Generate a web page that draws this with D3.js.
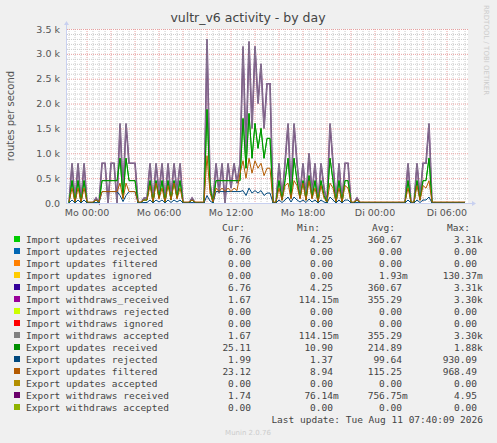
<!DOCTYPE html>
<html><head><meta charset="utf-8">
<script src="https://cdn.jsdelivr.net/npm/d3@7"></script>
<style>body{margin:0;background:#f0f0f0}</style>
</head><body><div id="chart"></div>
<script>
// samples every 15 min, first sample at Mo 00:00 - 1.5h
const startHour = -1.5, stepHour = 0.25;
const withdraws = [0,800,0,800,0,800,0,0,0,100,0,800,800,0,800,800,0,1600,200,1600,800,800,800,0,0,100,100,800,0,800,200,800,0,800,100,800,200,800,0,0,0,100,0,0,0,0,3300,400,0,800,200,800,0,800,300,800,400,800,3150,1000,3250,1500,3150,2000,2800,1500,2400,2400,0,0,800,100,800,1600,200,1600,800,200,800,100,1000,200,800,0,800,300,0,1600,800,0,800,0,800,800,0,0,100,0,0,0,0,0,0,0,0,0,0,0,0,0,0,0,0,800,0,0,800,100,800,800,1600,0,0,0,0,0,0,0,0,0,0,0,0];
const updates = [5,450,5,450,5,450,5,5,5,60,5,450,450,450,450,450,450,900,100,900,450,450,450,5,5,60,60,450,5,450,100,450,5,450,60,450,100,450,5,5,5,60,5,5,5,5,1880,300,5,450,450,450,450,450,450,450,450,450,1700,700,1800,900,1600,1100,1500,900,1300,1300,5,5,450,60,450,900,100,900,450,100,450,60,550,100,450,5,450,150,5,900,450,5,450,5,450,450,5,5,60,5,5,5,5,5,5,5,5,5,5,5,5,5,5,5,5,450,5,5,450,60,450,450,900,5,5,5,5,5,5,5,5,5,5,5,5];
const filtered = [20,300,20,300,20,300,20,20,20,60,20,230,230,230,230,230,230,400,80,400,230,230,230,20,20,60,60,350,20,400,80,300,20,350,60,400,80,300,20,20,20,60,20,20,20,20,950,200,20,300,230,300,230,300,230,300,250,600,850,500,900,600,850,700,800,550,700,700,20,20,300,50,350,400,80,450,350,80,400,50,450,80,300,20,350,100,20,400,300,20,300,20,350,300,20,20,60,20,20,20,20,20,20,20,20,20,20,20,20,20,20,20,20,300,20,20,350,50,350,300,450,20,20,20,20,20,20,20,20,20,20,20,20];
const rejected = [2,60,2,60,2,60,2,2,2,10,2,230,230,230,230,230,230,150,30,150,230,230,230,2,2,10,10,60,2,60,20,60,2,60,10,60,20,60,2,2,2,10,2,2,2,2,150,40,2,230,230,230,230,230,230,230,230,230,250,150,300,200,250,200,250,150,200,200,2,2,60,10,60,120,20,120,60,20,60,10,80,20,60,2,60,20,2,120,60,2,60,2,60,60,2,2,10,2,2,2,2,2,2,2,2,2,2,2,2,2,2,2,2,60,2,2,60,10,60,60,120,2,2,2,2,2,2,2,2,2,2,2,2];
const yTicks = [0,500,1000,1500,2000,2500,3000,3500];
const yTickLabels = ["0.0","0.5 k","1.0 k","1.5 k","2.0 k","2.5 k","3.0 k","3.5 k"];
const xTicks = [0,6,12,18,24,30];
const xTickLabels = ["Mo 00:00","Mo 06:00","Mo 12:00","Mo 18:00","Di 00:00","Di 06:00"];
const legendNames = ["Import updates received","Import updates rejected","Import updates filtered","Import updates ignored","Import updates accepted","Import withdraws_received","Import withdraws rejected","Import withdraws ignored","Import withdraws accepted","Export updates received","Export updates rejected","Export updates filtered","Export updates accepted","Export withdraws received","Export withdraws accepted"];
const legendColors = ["#00cc00","#0066b3","#ff8000","#ffcc00","#330099","#990099","#ccff00","#ff0000","#808080","#008f00","#00487d","#b35a00","#b38f00","#6b006b","#8fb300"];
const curVals = ["6.76","0.00","0.00","0.00","6.76","1.67","0.00","0.00","1.67","25.11","1.99","23.12","0.00","1.74","0.00"];
const minVals = ["4.25","0.00","0.00","0.00","4.25","114.15m","0.00","0.00","114.15m","10.90","1.37","8.94","0.00","76.14m","0.00"];
const avgVals = ["360.67","0.00","0.00","1.93m","360.67","355.29","0.00","0.00","355.29","214.89","99.64","115.25","0.00","756.75m","0.00"];
const maxVals = ["3.31k","0.00","0.00","130.37m","3.31k","3.30k","0.00","0.00","3.30k","1.88k","930.09","968.49","0.00","4.95","0.00"];

const W = 497, H = 443;
const svg = d3.select("#chart").append("svg").attr("width", W).attr("height", H)
  .style("font-family", "DejaVu Sans");
const x = d3.scaleLinear().domain([-1.67, 31.75]).range([67, 468]);
const y = d3.scaleLinear().domain([0, 3500]).range([203, 29]);

// grid
svg.append("rect").attr("x", 67).attr("y", 29).attr("width", 401).attr("height", 174).attr("fill", "#fff");
svg.append("g").selectAll("line").data(d3.range(-1.5, 31.75, 0.5)).join("line")
  .attr("x1", d => x(d)).attr("x2", d => x(d)).attr("y1", 29).attr("y2", 203)
  .attr("stroke", d => d % 2 === 0 ? "#e8a0a0" : "#ccc").attr("stroke-dasharray", "1,1");
svg.append("g").selectAll("line").data(d3.range(100, 3600, 100)).join("line")
  .attr("x1", 67).attr("x2", 468).attr("y1", d => y(d) + 0.5).attr("y2", d => y(d) + 0.5)
  .attr("stroke", d => d % 500 === 0 ? "#e8a0a0" : "#ccc").attr("stroke-dasharray", "1,1");

const line = arr => d3.line().x((d, i) => x(startHour + i * stepHour)).y(d => y(d))(arr);
const series = [[withdraws, "#6b3a78", 1.6], [withdraws, "#8c8294", 0.8], [updates, "#00cc00", 1], [updates, "#008f00", 1], [rejected, "#00487d", 1], [filtered, "#b35a00", 1]];
series.forEach(([arr, c, w]) => {
  svg.append("path").attr("d", line(arr)).attr("fill", "none").attr("stroke", c).attr("stroke-width", w);
});

// axes
svg.append("line").attr("x1", 66).attr("x2", 472).attr("y1", 203.5).attr("y2", 203.5).attr("stroke", "#c8d0f0");
svg.append("line").attr("x1", 66.5).attr("x2", 66.5).attr("y1", 24).attr("y2", 204).attr("stroke", "#c8d0f0");
svg.append("path").attr("d", "M472,201 L476,203.5 L472,206 Z").attr("fill", "#c8d0f0");
svg.append("path").attr("d", "M64,25 L66.5,21 L69,25 Z").attr("fill", "#c8d0f0");
svg.append("g").selectAll("text").data(yTicks).join("text")
  .attr("x", 60).attr("y", d => y(d) + 3.5).attr("text-anchor", "end")
  .attr("font-size", 9.5).attr("fill", "#555").text((d, i) => yTickLabels[i]);
svg.append("g").selectAll("text").data(xTicks).join("text")
  .attr("x", d => x(d)).attr("y", 216).attr("text-anchor", "middle")
  .attr("font-size", 9.5).attr("fill", "#555").text((d, i) => xTickLabels[i]);

svg.append("text").attr("x", 248).attr("y", 22).attr("text-anchor", "middle").attr("font-size", 12.5).attr("fill", "#444").text("vultr_v6 activity - by day");
svg.append("text").attr("transform", "translate(14,116) rotate(-90)").attr("text-anchor", "middle").attr("font-size", 10).attr("fill", "#555").text("routes per second");
svg.append("text").attr("transform", "translate(484,5) rotate(90)").attr("font-size", 7).attr("fill", "#ccc").text("RRDTOOL / TOBI OETIKER");

// legend
const lg = svg.append("g").style("font-family", "DejaVu Sans Mono").attr("font-size", 9.5).attr("fill", "#444");
[["Cur:", 245], ["Min:", 320], ["Avg:", 395], ["Max:", 470]].forEach(([t, px]) =>
  lg.append("text").attr("x", px).attr("y", 231).attr("text-anchor", "end").text(t));
const cols = [[curVals, 251], [minVals, 333], [avgVals, 402], [maxVals, 477]];
legendNames.forEach((n, i) => {
  const yy = 243 + i * 12;
  lg.append("rect").attr("x", 14).attr("y", yy - 7).attr("width", 6).attr("height", 6).attr("fill", legendColors[i]);
  lg.append("text").attr("x", 26).attr("y", yy).text(n);
  cols.forEach(([vals, px]) => {
    const v = vals[i], suf = /[mk]$/.test(v);
    lg.append("text").attr("x", px).attr("y", yy).attr("text-anchor", "end").text(suf ? v.slice(0, -1) : v);
    if (suf) lg.append("text").attr("x", px).attr("y", yy).text(v.slice(-1));
  });
});
lg.append("text").attr("x", 483).attr("y", 423).attr("text-anchor", "end").text("Last update: Tue Aug 11 07:40:09 2026");
svg.append("text").attr("x", 248).attr("y", 435).attr("text-anchor", "middle").attr("font-size", 7).attr("fill", "#ccc").text("Munin 2.0.76");
</script></body></html>
